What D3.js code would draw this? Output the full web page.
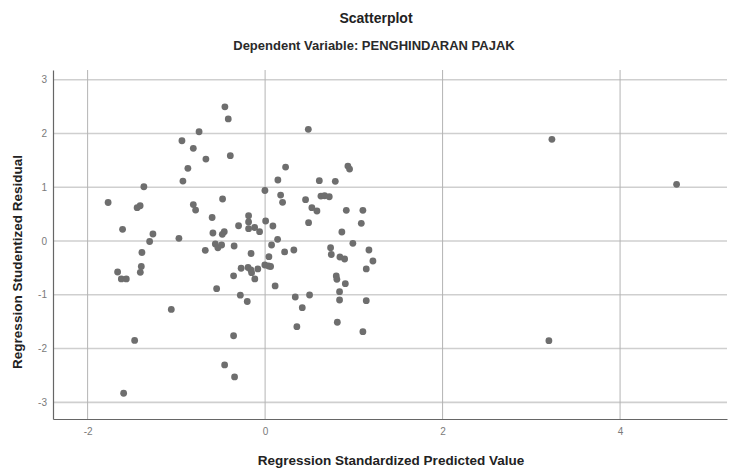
<!DOCTYPE html>
<html>
<head>
<meta charset="utf-8">
<style>
    body { margin: 0; background: #fff; }
    text { font-family: "Liberation Sans", Arial, sans-serif; }
    .grid-h line { stroke: #cfcfcf; stroke-width: 1.6; }
    .grid-v line { stroke: #b4b4b4; stroke-width: 1; }
    .tick text { fill: #7a7a7a; font-size: 10px; }
</style>
</head>
<body>
<svg id="chart" width="730" height="468"></svg>
<script src="https://cdn.jsdelivr.net/npm/d3@7"></script>
<script>
    // Regression Standardized Predicted Value
    let predicted = [
        -1.769, -1.606, -1.366, -1.442, -1.408, -1.264, -1.301, -1.388, -0.971, -0.937,
        -0.926, -0.870, -0.809, -0.744, -0.667, -0.809, -0.783, -0.453, -0.415, -0.392,
        -0.479, -0.597, -0.588, -0.460, -0.482, -0.674, -0.561, -0.532, -0.490, -0.349,
        -0.299, -0.186, -0.186, -0.186, -0.118, -0.062, -0.158, -0.002, 0.006, 0.088,
        0.141, 0.073, 0.043, 0.220, 0.144, 0.175, 0.197, 0.231, -1.662, -1.620,
        -1.564, -1.395, -1.406, -0.355, -0.270, -0.192, -0.160, -0.152, -0.082, -0.116,
        -0.003, 0.039, 0.062, 0.113, -0.546, -0.279, -0.201, -1.057, -1.470, -0.355,
        -0.456, -0.344, -1.594, 0.487, 0.611, 0.791, 0.933, 0.952, 0.456, 0.629,
        0.670, 0.723, 0.527, 0.584, 0.490, 0.915, 1.102, 1.084, 0.865, 0.324,
        0.738, 0.746, 0.843, 0.896, 0.989, 1.170, 1.215, 1.140, 0.340, 0.501,
        0.419, 0.358, 0.802, 0.809, 0.904, 0.839, 0.839, 0.814, 1.140, 1.102,
        3.232, 4.637, 3.198
    ]
    // Regression Studentized Residual
    let residual = [
        0.716, 0.217, 1.009, 0.619, 0.656, 0.130, -0.009, -0.214, 0.050, 1.864,
        1.115, 1.351, 1.723, 2.032, 1.524, 0.678, 0.576, 2.496, 2.271, 1.586,
        0.781, 0.437, 0.149, 0.173, 0.125, -0.173, -0.056, -0.125, -0.074, -0.093,
        0.284, 0.470, 0.353, 0.229, 0.251, 0.173, -0.232, 0.939, 0.372, 0.279,
        0.032, -0.074, -0.292, -0.204, 1.134, 0.855, 0.719, 1.375, -0.576, -0.706,
        -0.706, -0.474, -0.582, -0.647, -0.507, -0.493, -0.539, -0.589, -0.520, -0.706,
        -0.446, -0.465, -0.474, -0.836, -0.887, -1.007, -1.125, -1.273, -1.849, -1.762,
        -2.305, -2.528, -2.831, 2.076, 1.121, 1.110, 1.394, 1.338, 0.768, 0.836,
        0.842, 0.823, 0.619, 0.558, 0.340, 0.571, 0.571, 0.329, 0.167, -0.167,
        -0.125, -0.251, -0.297, -0.335, -0.043, -0.167, -0.372, -0.520, -1.041, -1.004,
        -1.240, -1.593, -0.651, -0.712, -0.794, -0.942, -1.097, -1.511, -1.110, -1.686,
        1.890, 1.054, -1.853
    ]
    let xTicks = [-2, 0, 2, 4]
    let yTicks = [-3, -2, -1, 0, 1, 2, 3]

    let svg = d3.select("#chart")
    let plotLeft = 53, plotRight = 727, plotTop = 70, plotBottom = 419

    let x = d3.scaleLinear().domain([-2.39, 5.205]).range([plotLeft, plotRight])
    let y = d3.scaleLinear().domain([-3.31, 3.18]).range([plotBottom, plotTop])
    let fmt = d => String(d)   // plain hyphen, no unicode minus

    // horizontal grid
    svg.append("g").attr("class", "grid-h")
        .selectAll("line").data(yTicks).enter().append("line")
        .attr("x1", plotLeft).attr("x2", plotRight)
        .attr("y1", d => y(d)).attr("y2", d => y(d))

    // vertical grid
    svg.append("g").attr("class", "grid-v")
        .selectAll("line").data(xTicks).enter().append("line")
        .attr("y1", plotTop).attr("y2", plotBottom)
        .attr("x1", d => x(d)).attr("x2", d => x(d))

    // axes
    let xAxis = svg.append("g")
        .attr("transform", `translate(0,${plotBottom})`)
        .call(d3.axisBottom(x).tickValues(xTicks).tickFormat(fmt).tickSize(0).tickPadding(9))
    xAxis.select(".domain").attr("stroke", "#666").attr("stroke-width", 1.2)

    let yAxis = svg.append("g")
        .attr("transform", `translate(${plotLeft},0)`)
        .call(d3.axisLeft(y).tickValues(yTicks).tickFormat(fmt).tickSize(0).tickPadding(6))
    yAxis.select(".domain").attr("stroke", "#666").attr("stroke-width", 1.2)

    // points
    let points = predicted.map((p, i) => ({ p: p, r: residual[i] }))
    svg.append("g").selectAll("circle")
        .data(points).enter().append("circle")
        .attr("cx", d => x(d.p))
        .attr("cy", d => y(d.r))
        .attr("r", 3.4)
        .attr("fill", "#6e6e6e")

    // titles
    svg.append("text").text("Scatterplot")
        .attr("x", 376).attr("y", 23)
        .attr("text-anchor", "middle")
        .attr("font-size", 14).attr("font-weight", "bold").attr("fill", "#222")

    svg.append("text").text("Dependent Variable: PENGHINDARAN PAJAK")
        .attr("x", 374).attr("y", 50)
        .attr("text-anchor", "middle")
        .attr("font-size", 13).attr("font-weight", "bold").attr("fill", "#2a2a2a")

    svg.append("text").text("Regression Standardized Predicted Value")
        .attr("x", 391).attr("y", 465)
        .attr("text-anchor", "middle")
        .attr("font-size", 13.5).attr("font-weight", "bold").attr("fill", "#222")

    svg.append("text").text("Regression Studentized Residual")
        .attr("transform", "translate(22,262) rotate(-90)")
        .attr("text-anchor", "middle")
        .attr("font-size", 13.5).attr("font-weight", "bold").attr("fill", "#222")
</script>
</body>
</html>
